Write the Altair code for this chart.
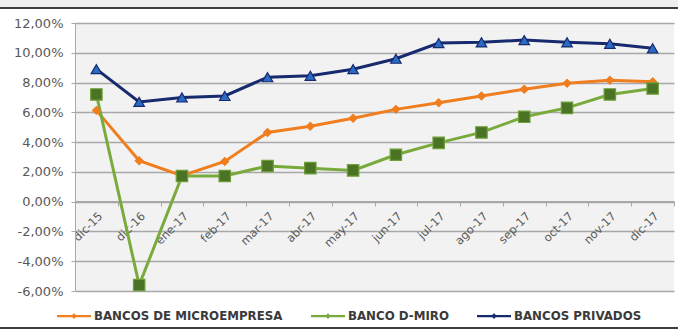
import altair as alt
import pandas as pd

# Monthly series (percent)
meses = ["dic-15", "dic-16", "ene-17", "feb-17", "mar-17", "abr-17", "may-17",
         "jun-17", "jul-17", "ago-17", "sep-17", "oct-17", "nov-17", "dic-17"]
micro = [6.13, 2.75, 1.75, 2.70, 4.65, 5.06, 5.60, 6.20, 6.65, 7.10, 7.55, 7.95, 8.15, 8.05]
dmiro = [7.20, -5.60, 1.72, 1.72, 2.40, 2.25, 2.10, 3.15, 3.95, 4.65, 5.70, 6.30, 7.20, 7.60]
privados = [8.90, 6.70, 7.00, 7.10, 8.36, 8.45, 8.90, 9.60, 10.65, 10.70, 10.85, 10.70, 10.60, 10.30]

series = ["BANCOS DE MICROEMPRESA", "BANCO D-MIRO", "BANCOS PRIVADOS"]
ticks_y = [-6, -4, -2, 0, 2, 4, 6, 8, 10, 12]

colores_linea = ["#f07d1e", "#79aa3c", "#172a6e"]
colores_relleno = ["#f07d1e", "#4b7326", "#2a6cc4"]
colores_borde = ["#f07d1e", "#6e9e36", "#172a6e"]
formas = ["diamond", "square", "triangle-up"]
tamanos = [60, 130, 110]

rows = []
for s, vals in zip(series, [micro, dmiro, privados]):
    for m, v in zip(meses, vals):
        rows.append({"mes": m, "serie": s, "valor": v})
df = pd.DataFrame(rows)

FONT = "DejaVu Sans"
GRID = "#a8a8a8"

x_enc = alt.X(
    "mes:N", sort=meses, bandPosition=0.5,
    scale=alt.Scale(type="band", paddingInner=0, paddingOuter=0),
    axis=alt.Axis(title=None, labelAngle=-45, offset=-90, tickBand="extent",
                  domainColor=GRID, tickColor=GRID, tickSize=5, grid=False,
                  labelFont=FONT, labelFontSize=11.5, labelColor="#595959",
                  labelPadding=4),
)
y_enc = alt.Y(
    "valor:Q", scale=alt.Scale(domain=[-6, 12], nice=False, zero=False),
    axis=alt.Axis(title=None, values=ticks_y,
                  labelExpr="(datum.value < 0 ? '-' : '') + replace(format(abs(datum.value), '.2f'), '.', ',') + '%'",
                  grid=True, gridColor=GRID, gridWidth=1.3,
                  domainColor=GRID, tickColor=GRID, tickSize=4,
                  labelFont=FONT, labelFontSize=13, labelColor="#595959", labelPadding=8),
)

color_scale = alt.Scale(domain=series, range=colores_linea)
simbolo = "M-1,-0.07H1V0.07H-1Z M0,-0.17L0.17,0L0,0.17L-0.17,0Z"

# Invisible layer that only carries the legend (line with a small marker)
leyenda = alt.Chart(df).mark_point(filled=True, opacity=0).encode(
    x=x_enc, y=y_enc,
    color=alt.Color("serie:N", scale=color_scale, sort=series,
                    legend=alt.Legend(title=None, orient="none", legendX=-18, legendY=276,
                                      direction="horizontal", columns=3, columnPadding=28,
                                      symbolType=simbolo, symbolSize=1156, symbolOpacity=1,
                                      symbolStrokeWidth=0, labelFont=FONT, labelFontWeight="bold",
                                      labelFontSize=11.8, labelColor="#3a3a3a", labelOffset=3,
                                      labelLimit=300)),
)

lineas = alt.Chart(df).mark_line(strokeWidth=3).encode(
    x=x_enc, y=y_enc,
    color=alt.Color("serie:N", scale=color_scale, legend=None),
    detail="serie:N",
)

# One marker layer per series
marcadores = []
for s, forma, relleno, borde, tam in zip(series, formas, colores_relleno, colores_borde, tamanos):
    marcadores.append(
        alt.Chart(df).transform_filter(alt.datum.serie == s).mark_point(
            filled=True, opacity=1, shape=forma, size=tam,
            fill=relleno, stroke=borde, strokeWidth=1.2,
        ).encode(x=x_enc, y=y_enc)
    )

# Outer frame: light band and dark rule on top, dark rule at the bottom
marco = alt.Data(values=[{"k": 1}])
banda = alt.Chart(marco).mark_rect(color="#efefef").encode(
    x=alt.value(-75), x2=alt.value(604), y=alt.value(-23), y2=alt.value(-16))
regla_sup = alt.Chart(marco).mark_rule(color="#3c3c3c", strokeWidth=2).encode(
    x=alt.value(-75), x2=alt.value(604), y=alt.value(-15))
regla_inf = alt.Chart(marco).mark_rule(color="#3c3c3c", strokeWidth=2).encode(
    x=alt.value(-75), x2=alt.value(604), y=alt.value(305))

chart = alt.layer(banda, regla_sup, regla_inf, leyenda, lineas, *marcadores).properties(
    width=599, height=268,
    padding={"left": 75, "top": 23, "right": 4, "bottom": 38},
    autosize=alt.AutoSizeParams(type="none"),
    background="white",
).configure_view(fill="#f2f2f2", stroke=None)

chart.save("out.html", embed_options={"renderer": "svg", "actions": False})
